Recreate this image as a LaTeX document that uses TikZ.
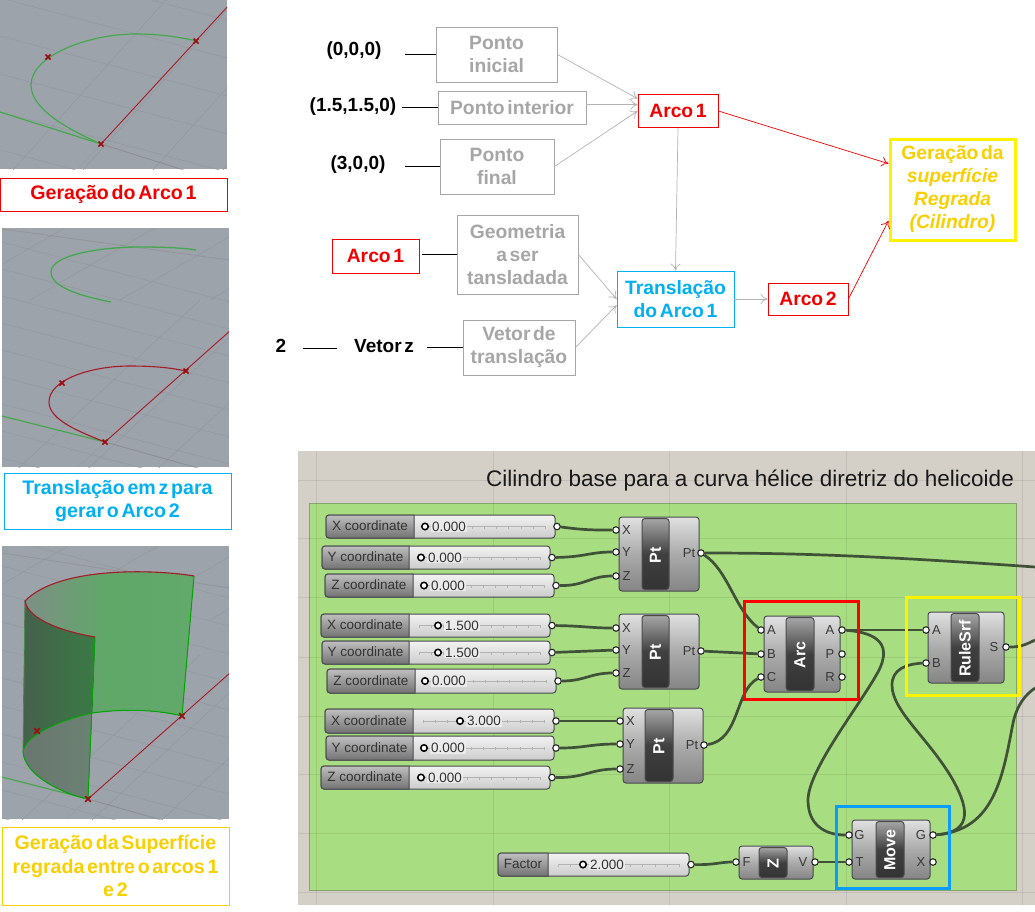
\documentclass[tikz,border=0pt]{standalone}
\usepackage{fontspec}
\setmainfont[WordSpace=0.5]{Liberation Sans}
\newfontfamily\plainf{Liberation Sans}
\usetikzlibrary{arrows.meta,calc}
\definecolor{cgrey}{HTML}{A6A6A6}
\definecolor{cred}{HTML}{F00000}
\definecolor{cblue}{HTML}{00B0F0}
\definecolor{cyel}{HTML}{F8D000}
\definecolor{panel}{HTML}{9DA3AB}
\definecolor{gridc}{HTML}{91979D}
\definecolor{cgreen}{HTML}{45A84F}
\definecolor{cdred}{HTML}{A51C28}
\definecolor{canvasc}{HTML}{D4D0C8}
\definecolor{groupc}{HTML}{A9DD82}
\definecolor{wirec}{HTML}{3F5238}
\definecolor{edgec}{HTML}{4A4A50}
\definecolor{cmark}{HTML}{9C0A10}
\definecolor{fblue}{HTML}{0A9BFF}
\definecolor{surfa}{HTML}{7E8F86}
\definecolor{surfb}{HTML}{5FA868}
\definecolor{surfc}{HTML}{62A96C}
\definecolor{surfd}{HTML}{46604D}
\definecolor{surfe}{HTML}{3A7A45}
\definecolor{surff}{HTML}{6A766F}
\definecolor{surfg}{HTML}{6B8274}
\pgfdeclarelayer{bglayer}\pgfdeclarelayer{wirelayer}
\pgfsetlayers{bglayer,wirelayer,main}
\tikzset{
 tbox/.style={draw=#1,line width=0.8pt,align=center,inner sep=0pt,font=\fontsize{19.3}{23}\selectfont\bfseries},
 glabel/.style={text=cgrey},
 black label/.style={inner sep=0pt,font=\fontsize{19}{23}\selectfont\bfseries},
 arr/.style={draw=#1,line width=0.7pt,-{To[length=7pt,width=10pt]}},
 bline/.style={draw=black,line width=0.9pt},
 caption/.style={draw=#1,text=#1,line width=1pt,align=center,inner sep=0pt,font=\fontsize{19.6}{23.5}\selectfont\bfseries},
 xmark/.style={draw=cmark,line width=1.6pt},
 wire/.style={draw=wirec,line width=2.7pt},
 port/.style={circle,draw=black!85,fill=white,line width=1.1pt,inner sep=0pt,minimum size=6.5pt},
 frame/.style={draw=#1,line width=3pt},
 sbody/.style={draw=edgec,line width=1pt,rounded corners=3pt,top color=white!95!black,bottom color=black!20},
 slab/.style={draw=edgec,line width=1pt,top color=black!25,bottom color=black!55},
 cbody/.style={draw=edgec,line width=1pt,rounded corners=3pt,top color=black!12,bottom color=black!48,middle color=black!33},
 cbar/.style={draw=black!70,line width=1pt,rounded corners=3pt,top color=black!35,bottom color=black!80,middle color=black!75},
 gtxt/.style={inner sep=0pt,text=black!78,font=\plainf\fontsize{13}{15}\selectfont},
 bartxt/.style={inner sep=0pt,text=white,rotate=90,font=\plainf\fontsize{16}{18}\selectfont\bfseries},
}
% slider: name x1 x2 split y1 y2 label dotx value
\newcommand{\gslider}[9]{%
 \pgfmathsetmacro{\cxx}{(#2+#3)/2}\pgfmathsetmacro{\cyy}{(#5+#6)/2}%
 \pgfmathsetmacro{\ww}{#3-#2}\pgfmathsetmacro{\hh}{#6-#5}%
 \node[sbody,inner sep=0pt,minimum width=\ww pt,minimum height=\hh pt] (#1) at (\cxx,\cyy) {};%
 \draw[slab] (#4,#6) [rounded corners=3pt] -- (#2,#6) -- (#2,#5) [sharp corners] -- (#4,#5) -- cycle;%
 \foreach \tk in {0,...,10}{\pgfmathsetmacro{\tx}{#4+10+\tk*(#3-#4-20)/10}\draw[black!30,line width=.5pt] (\tx,\cyy-1) -- (\tx,\cyy+2);}%
 \draw[black!30,line width=.5pt] (#4+10,\cyy) -- (#3-10,\cyy);%
 \node[inner sep=0pt,text=black!80,font=\plainf\fontsize{13.5}{15}\selectfont] (#1-l) at ({(#2+#4)/2},\cyy-0.5) {#7};%
 \node[circle,draw=black,fill=white,line width=1.5pt,inner sep=0pt,minimum size=6.5pt] (#1-d) at (#8,\cyy) {};%
 \node[inner sep=1pt,anchor=west,fill=white!92!black,text=black!80,font=\plainf\fontsize{13.5}{15}\selectfont] (#1-v) at (#8+6,\cyy) {#9};%
 \node[port] (#1-o) at (#3+2,\cyy) {};%
}
% component: name x1 y1 x2 y2 barx1 barx2 label
\newcommand{\gcomp}[8]{%
 \pgfmathsetmacro{\cxx}{(#2+#4)/2}\pgfmathsetmacro{\cyy}{(#3+#5)/2}%
 \pgfmathsetmacro{\ww}{#4-#2}\pgfmathsetmacro{\hh}{#5-#3}%
 \node[cbody,inner sep=0pt,minimum width=\ww pt,minimum height=\hh pt] (#1) at (\cxx,\cyy) {};%
 \draw[cbar] (#6,#3+1.5) rectangle (#7,#5-1.5);%
 \node[bartxt] (#1-b) at ({(#6+#7)/2},\cyy+1) {#8};%
}
\newcommand{\gin}[4]{\node[port] (#1) at (#2,#3) {};\node[gtxt] (#1-t) at (#2+10.5,#3) {#4};}
\newcommand{\gout}[4]{\node[port] (#1) at (#2,#3) {};\node[gtxt] (#1-t) at (#2-12,#3) {#4};}
\begin{document}
\begin{tikzpicture}[x=1pt,y=-1pt]
\useasboundingbox (0,0) rectangle (1035,911);

% ---------- Rhino panel 1
\begin{scope}
\clip (0,0) rectangle (227,169);
\fill[panel] (0,0) rectangle (227,169);
\foreach \yy in {-40,-2,36,74,112,150}{\draw[gridc,line width=.5pt] (0,\yy) -- (227,\yy+60);}
\foreach \xx in {0,70,140,210,280,350}{\draw[gridc,line width=.5pt] (\xx-5,190) -- (\xx+175,-10);}
\draw[black!50,line width=.8pt,opacity=.6] (101,144) -- (190,172);
\draw[black!40,line width=.6pt,opacity=.6] (101,144) -- (78,169);
\draw[cdred,line width=.9pt] (101,144) -- (229,5);
\draw[cgreen,line width=1.2pt] (0,112) -- (101,144);
\draw[cgreen,line width=1.2pt] (101,144) .. controls (70,130) and (31,110) .. (31,85) .. controls (31,55) and (90,34) .. (135,34) .. controls (160,34) and (180,37) .. (196,41);
\foreach \p in {(48,57),(196,41),(101,144)}{\draw[xmark] \p ++(-2.5,-2.5) -- ++(5,5) \p ++(-2.5,2.5) -- ++(5,-5);}
\end{scope}
\node[caption=cred,minimum width=227pt,minimum height=33pt] (cap1) at (113.5,194.5) {Geração do Arco 1};

% ---------- Rhino panel 2
\begin{scope}
\clip (2,228) rectangle (229,467);
\fill[panel] (2,228) rectangle (229,467);
\foreach \yy in {250,277,304,331,358,385,412,439,466}{\draw[gridc,line width=.5pt] (2,\yy-8) -- (229,\yy+52);}
\foreach \xx in {0,70,140,210,280,350}{\draw[gridc,line width=.5pt] (\xx-5,490) -- (\xx+200,300);}
\foreach \xx in {-60,30,120,210}{\draw[gridc,line width=.5pt] (\xx,300) -- (\xx+130,225);}
\draw[black!45,line width=.8pt,opacity=.6] (2,229) -- (229,260);
\draw[black!50,line width=.8pt,opacity=.6] (105,442) -- (205,470);
\draw[black!40,line width=.6pt,opacity=.6] (105,442) -- (78,467);
\draw[cdred,line width=.9pt] (105,442) -- (231,330);
\draw[cgreen,line width=1.2pt] (2,416) -- (105,442);
\draw[cgreen,line width=1.3pt] (111,302) .. controls (85,297) and (51,288) .. (51,272) .. controls (51,255) and (100,247) .. (140,247) .. controls (165,247) and (185,248) .. (196,250);
\draw[cdred,line width=1.1pt] (105,442) .. controls (80,432) and (49,420) .. (49,402) .. controls (49,380) and (90,366) .. (130,366) .. controls (155,366) and (172,368) .. (186,371);
\foreach \p in {(62,383),(186,371),(105,442)}{\draw[xmark] \p ++(-2.5,-2.5) -- ++(5,5) \p ++(-2.5,2.5) -- ++(5,-5);}
\end{scope}
\node[caption=cblue,minimum width=227pt,minimum height=56pt] (cap2) at (117.5,501) {Translação em z para\\gerar o Arco 2};

% ---------- Rhino panel 3
\begin{scope}
\clip (2,546) rectangle (229,819);
\fill[panel] (2,546) rectangle (229,819);
\foreach \yy in {546,574,602,630,658,686,714,742,770,798,826}{\draw[gridc,line width=.5pt] (2,\yy-8) -- (229,\yy+52);}
\foreach \xx in {0,70,140,210,280,350}{\draw[gridc,line width=.5pt] (\xx-5,845) -- (\xx+200,655);}
\foreach \xx in {-60,30,120,210}{\draw[gridc,line width=.5pt] (\xx,620) -- (\xx+130,545);}
\draw[black!45,line width=.8pt,opacity=.6] (2,553) -- (229,588);
\draw[black!50,line width=.8pt,opacity=.6] (88,799) -- (165,821);
\draw[black!40,line width=.6pt,opacity=.6] (88,799) -- (66,819);
\draw[cdred,line width=.9pt] (88,799) -- (231,672);
\draw[cgreen,line width=1.2pt] (2,777) -- (88,799);
% surface
\fill[left color=surfa,right color=surfc,middle color=surfb]
 (25,601) .. controls (60,565) and (160,570) .. (194,576) -- (182,716) .. controls (155,709) and (120,709) .. (92,713) -- (95,637) .. controls (65,632) and (28,620) .. (25,601) -- cycle;
\fill[left color=surfd,right color=surfe]
 (25,601) .. controls (28,620) and (65,632) .. (95,637) -- (92,713) .. controls (60,720) and (25,735) .. (23,752) -- cycle;
\fill[left color=surff,right color=surfg]
 (92,713) .. controls (60,720) and (25,735) .. (23,752) .. controls (25,775) and (60,793) .. (88,799) -- cycle;
\draw[green!65!black,line width=1pt] (194,576) -- (182,716) .. controls (155,709) and (120,709) .. (92,713) .. controls (60,720) and (25,735) .. (23,752) .. controls (25,775) and (60,793) .. (88,799) -- (95,637);
\draw[green!35!black!70,line width=.8pt] (25,601) -- (23,752);
\draw[cdred,line width=1.1pt] (194,576) .. controls (160,570) and (60,565) .. (25,601) .. controls (28,620) and (65,632) .. (95,637);
\foreach \p in {(37,731),(182,716),(88,799)}{\draw[xmark] \p ++(-2.8,-2.8) -- ++(5.6,5.6) \p ++(-2.8,2.8) -- ++(5.6,-5.6);}
\end{scope}
\node[caption=cyel,minimum width=227pt,minimum height=78pt,line width=.8pt] (cap3) at (115.5,866) {Geração da Superfície\\regrada entre o arcos 1\\e 2};

% ---------- flow diagram
\node[tbox=cgrey,glabel,minimum width=121pt,minimum height=55pt] (pi) at (496.5,54.5) {Ponto\\inicial};
\node[tbox=cgrey,glabel,minimum width=148pt,minimum height=33pt] (pm) at (512,107.5) {Ponto interior};
\node[tbox=cgrey,glabel,minimum width=114pt,minimum height=55pt] (pf) at (497,166.5) {Ponto\\final};
\node[tbox=cred,text=cred,minimum width=80pt,minimum height=33pt] (a1) at (678,111) {Arco 1};
\node[tbox=yellow,text=cyel,line width=3pt,minimum width=125pt,minimum height=101pt] (ger) at (952.5,189.5) {Geração da\\\textit{superfície}\\\textit{Regrada}\\\textit{(Cilindro)}};
\node[tbox=cgrey,glabel,minimum width=121pt,minimum height=79pt] (geo) at (517.5,254.5) {Geometria\\a ser\\tansladada};
\node[tbox=cred,text=cred,minimum width=87pt,minimum height=34pt] (a1b) at (375.5,256) {Arco 1};
\node[tbox=cblue,text=cblue,minimum width=117pt,minimum height=56pt] (tr) at (675.5,299) {Translação\\do Arco 1};
\node[tbox=cred,text=cred,minimum width=80pt,minimum height=32pt] (a2) at (808,299) {Arco 2};
\node[tbox=cgrey,glabel,minimum width=112pt,minimum height=55pt] (vt) at (519,347.5) {Vetor de\\translação};
\node[black label] (l1) at (354,51) {(0,0,0)};
\node[black label] (l2) at (353,107) {(1.5,1.5,0)};
\node[black label] (l3) at (358,165) {(3,0,0)};
\node[black label] (l4) at (281,346) {2};
\node[black label] (vz) at (384,346) {Vetor z};
\coordinate (c1) at (405,54.5);
\coordinate (c2) at (402,107.5);
\coordinate (c3) at (405,166.5);
\coordinate (c4) at (303,348);
\coordinate (c5) at (337,348);
\coordinate (c6) at (427,347.5);
\coordinate (c7) at (422,254.5);
\draw[bline] (c1) -- (pi.west);
\draw[bline] (c2) -- (pm.west);
\draw[bline] (c3) -- (pf.west);
\draw[bline] (c7) -- (geo.west);
\draw[bline] (c4) -- (c5);
\draw[bline] (c6) -- (vt.west);
\draw[arr=cgrey!85] (pi.east) -- (a1.163);
\draw[arr=cgrey!85] (pm.east |- a1.171) -- (a1.171);
\draw[arr=cgrey!85] (pf.east) -- (a1.180);
\draw[arr=cgrey!85] (a1.south) -- (tr.north);
\draw[arr=cred] (a1.east) -- (ger.158);
\draw[arr=cgrey!85] (geo.east) -- (tr.west);
\draw[arr=cgrey!85] (vt.east) -- (tr.186);
\draw[arr=cgrey!85] (tr.east) -- (a2.west);
\draw[arr=cred] (a2.east) -- (ger.206);

% ---------- Grasshopper canvas
\begin{pgfonlayer}{bglayer}
\fill[white] (0,0) rectangle (1035,911);
\fill[canvasc] (298,451) rectangle (1035,905);
\fill[groupc] (309,503) rectangle (1016,890);
\draw[groupc!70!black!90,line width=.6pt] (309,503) rectangle (1016,890);
\foreach \gx in {316,493,669,846,1022}{\draw[black,line width=.6pt,opacity=.08] (\gx,451) -- (\gx,905);}
\foreach \gy in {480,538,597,657,716,774,833,892}{\draw[black,line width=.6pt,opacity=.08] (298,\gy) -- (1035,\gy);}
\end{pgfonlayer}
\node[inner sep=0pt,text=black!90,font=\plainf\fontsize{22.5}{26}\selectfont] (title) at (750,481) {Cilindro base para a curva hélice diretriz do helicoide};

\gslider{s1}{326}{555}{414}{515}{538}{X coordinate}{425}{0.000}
\gslider{s2}{322}{550}{409}{546}{569}{Y coordinate}{421}{0.000}
\gslider{s3}{325}{554}{413}{574}{597}{Z coordinate}{424}{0.000}
\gslider{s4}{321}{550}{409}{614}{637}{X coordinate}{438}{1.500}
\gslider{s5}{322}{550}{409}{641}{664}{Y coordinate}{438}{1.500}
\gslider{s6}{327}{556}{415}{669}{693}{Z coordinate}{425}{0.000}
\gslider{s7}{325}{554}{413}{709}{733}{X coordinate}{460}{3.000}
\gslider{s8}{326}{554}{413}{736}{760}{Y coordinate}{424}{0.000}
\gslider{s9}{321}{550}{409}{766}{789}{Z coordinate}{421}{0.000}
\gslider{sf}{498}{689}{548}{853}{876}{Factor}{583}{2.000}

\gcomp{p1}{619}{517}{699}{591}{642}{669}{Pt}
\gin{p1x}{616}{530}{X}\gin{p1y}{616}{552}{Y}\gin{p1z}{616}{576}{Z}\gout{p1o}{701}{553}{Pt}
\gcomp{p2}{619}{614}{699}{689}{642}{669}{Pt}
\gin{p2x}{616}{628}{X}\gin{p2y}{616}{650}{Y}\gin{p2z}{616}{673}{Z}\gout{p2o}{701}{651}{Pt}
\gcomp{p3}{623}{708}{703}{783}{645}{673}{Pt}
\gin{p3x}{620}{721}{X}\gin{p3y}{620}{744}{Y}\gin{p3z}{620}{769}{Z}\gout{p3o}{704}{745}{Pt}
\gcomp{arc}{764}{616}{840}{692}{786}{814}{Arc}
\gin{arca}{761}{630}{A}\gin{arcb}{761}{654}{B}\gin{arcc}{761}{677}{C}
\gout{arcoa}{842}{630}{A}\gout{arcop}{842}{654}{P}\gout{arcor}{842}{677}{R}
\gcomp{rs}{928}{612}{1004}{683}{951}{979}{RuleSrf}
\gin{rsa}{926}{630}{A}\gin{rsb}{926}{663}{B}\gout{rso}{1006}{647}{S}
\gcomp{zc}{739}{846}{813}{879}{759}{787}{Z}
\gin{zf}{736}{862}{F}\gout{zv}{815}{862}{V}
\gcomp{mv}{852}{820}{930}{879}{876}{904}{Move}
\gin{mvg}{849}{835}{G}\gin{mvt}{849}{862}{T}\gout{mvog}{933}{835}{G}\gout{mvox}{933}{862}{X}

\coordinate (rt1) at (1035,567);
\coordinate (rt2) at (1035,640);
\coordinate (rt3) at (1035,688);
\begin{pgfonlayer}{wirelayer}
\draw[wire] (s1-o) .. controls (585,530) and (590,530) .. (p1x);
\draw[wire] (s2-o) .. controls (585,557) and (590,552) .. (p1y);
\draw[wire] (s3-o) .. controls (585,586) and (590,576) .. (p1z);
\draw[wire] (s4-o) .. controls (585,626) and (590,628) .. (p2x);
\draw[wire] (s5-o) -- (p2y);
\draw[wire] (s6-o) .. controls (585,681) and (590,673) .. (p2z);
\draw[wire] (s7-o) .. controls (585,721) and (590,721) .. (p3x);
\draw[wire] (s8-o) .. controls (585,748) and (590,744) .. (p3y);
\draw[wire] (s9-o) .. controls (585,778) and (590,769) .. (p3z);
\draw[wire] (sf-o) .. controls (715,865) and (720,862) .. (zf);
\draw[wire] (zv) -- (mvt);
\draw[wire] (p1o) .. controls (800,553) and (880,556) .. (rt1);
\draw[wire] (p1o) .. controls (728,570) and (735,610) .. (arca);
\draw[wire] (p2o) -- (arcb);
\draw[wire] (p3o) .. controls (740,740) and (735,690) .. (arcc);
\draw[wire] (arcoa) -- (rsa);
\draw[wire] (arcoa) .. controls (870,632) and (895,640) .. (878,672) .. controls (860,705) and (808,770) .. (808,800) .. controls (808,825) and (825,835) .. (mvg);
\draw[wire] (mvog) .. controls (975,832) and (968,805) .. (950,775) .. controls (925,735) and (892,710) .. (892,685) .. controls (892,670) and (905,664) .. (rsb);
\draw[wire] (mvog) .. controls (995,830) and (1003,775) .. (1013,723) .. controls (1017,705) and (1025,695) .. (rt3);
\draw[wire] (rso) .. controls (1020,647) and (1025,645) .. (rt2);
\end{pgfonlayer}
\node[frame=red,inner sep=0pt,minimum width=114pt,minimum height=98pt] (fr) at (801,650) {};
\node[frame=yellow,inner sep=0pt,minimum width=113pt,minimum height=98pt] (fy) at (962.5,646) {};
\node[frame=fblue,inner sep=0pt,minimum width=113pt,minimum height=82pt] (fb) at (892.5,847) {};
\end{tikzpicture}
\end{document}
